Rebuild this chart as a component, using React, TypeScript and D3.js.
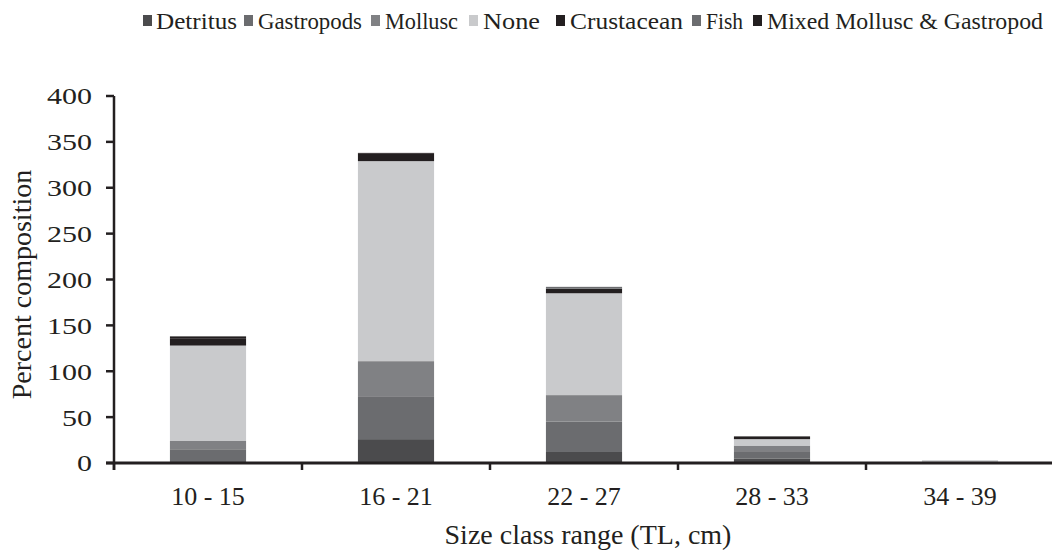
import React from "react";
import * as d3 from "d3";

const categories = ["10 - 15", "16 - 21", "22 - 27", "28 - 33", "34 - 39"];
const seriesNames = ["Detritus", "Gastropods", "Mollusc", "None", "Crustacean", "Fish", "Mixed Mollusc & Gastropod"];
const detritus = [1, 26, 12, 5, 0];
const gastropods = [14, 46, 33, 7, 0];
const mollusc = [9, 39, 29, 7, 0];
const none = [104, 218, 111, 7, 3];
const crustacean = [8, 8, 5, 3, 0];
const fish = [0, 0, 2, 0, 0];
const mixed = [2, 1, 0, 0, 0];
const yTicks = [0, 50, 100, 150, 200, 250, 300, 350, 400];
const colors = ["#4b4b4d", "#6b6c6f", "#808184", "#c9cacc", "#231f20", "#6b6c6f", "#231f20"];

const seriesValues = [detritus, gastropods, mollusc, none, crustacean, fish, mixed];

const W = 1052;
const H = 550;
const left = 114;
const right = 1054;
const top = 96;
const bottom = 463;
const FONT = "'Liberation Serif', 'Times New Roman', serif";

export default function App() {
  const x = d3.scaleBand<string>().domain(categories).range([left, right]).paddingInner(0.595).paddingOuter(0.2975);
  const y = d3.scaleLinear().domain([0, 400]).range([bottom, top]);
  const rows = categories.map((c, i) => {
    const r: any = { cat: c };
    seriesNames.forEach((s, k) => (r[s] = seriesValues[k][i]));
    return r;
  });
  const stacked = d3.stack<any>().keys(seriesNames)(rows);
  const step = x.step();
  const boundaries = d3.range(categories.length + 1).map((i) => left + i * step);

  // legend layout: square x, text x, text width
  const legendItems = [
    { name: "Detritus", sx: 143, tx: 156, w: 81 },
    { name: "Gastropods", sx: 244, tx: 258, w: 104 },
    { name: "Mollusc", sx: 371, tx: 385, w: 73 },
    { name: "None", sx: 469, tx: 483, w: 57 },
    { name: "Crustacean", sx: 556, tx: 570, w: 113 },
    { name: "Fish", sx: 692, tx: 706, w: 37 },
    { name: "Mixed Mollusc & Gastropod", sx: 753, tx: 767, w: 276 },
  ];

  return (
    <svg width={W} height={H} style={{ position: "absolute", left: 0, top: 0, background: "#fff" }} fontFamily={FONT}>
      {/* legend */}
      {legendItems.map((it, k) => (
        <g key={it.name}>
          <rect x={it.sx} y={15} width={9} height={11} fill={colors[k]} />
          <text x={it.tx} y={29} fontSize={23} fill="#231f20" textLength={it.w} lengthAdjust="spacingAndGlyphs">
            {it.name}
          </text>
        </g>
      ))}
      {/* bars */}
      {stacked.map((layer, k) => (
        <g key={layer.key} fill={colors[k]}>
          {layer.map((d, i) =>
            d[1] - d[0] > 0 ? (
              <rect key={i} x={x(categories[i])} width={x.bandwidth()} y={y(d[1])} height={y(d[0]) - y(d[1])} />
            ) : null
          )}
        </g>
      ))}
      {/* y axis */}
      <line x1={left} x2={left} y1={top} y2={bottom + 7} stroke="#231f20" strokeWidth={2.5} />
      {yTicks.map((t) => (
        <g key={t}>
          <line x1={left - 8} x2={left} y1={y(t)} y2={y(t)} stroke="#231f20" strokeWidth={2.5} />
          <text
            transform={`translate(${left - 22},${y(t)}) scale(1.25,1)`}
            dy="0.35em"
            textAnchor="end"
            fontSize={24}
            fill="#231f20"
          >
            {t}
          </text>
        </g>
      ))}
      {/* x axis */}
      <line x1={left - 8} x2={right} y1={bottom} y2={bottom} stroke="#231f20" strokeWidth={3} />
      {boundaries.map((b, i) => (
        <line key={i} x1={b} x2={b} y1={bottom} y2={bottom + 7} stroke="#231f20" strokeWidth={2.5} />
      ))}
      {categories.map((c) => (
        <text key={c} x={(x(c) as number) + x.bandwidth() / 2} y={505} textAnchor="middle" fontSize={26} fill="#231f20">
          {c}
        </text>
      ))}
      <text x={588} y={544} textAnchor="middle" fontSize={28} fill="#231f20">
        Size class range (TL, cm)
      </text>
      <text transform={`translate(31,${(top + bottom) / 2 + 5}) rotate(-90)`} textAnchor="middle" fontSize={28} fill="#231f20">
        Percent composition
      </text>
    </svg>
  );
}
